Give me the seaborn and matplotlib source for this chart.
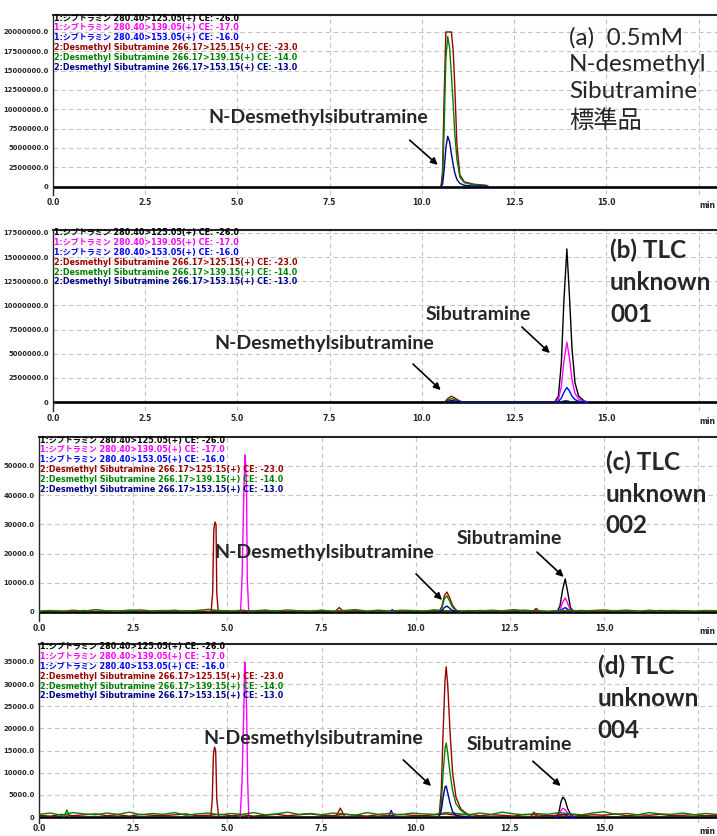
import numpy as np
import pandas as pd
import matplotlib.pyplot as plt
import seaborn as sns
from matplotlib.ticker import AutoMinorLocator, MultipleLocator

# MRM channels (legend order) and their colours
channel_ids = ["sib125", "sib139", "sib153", "dm125", "dm139", "dm153"]
channel_colors = ["#000000", "#ff00ff", "#0000ff", "#990000", "#008000", "#00008b"]
legend_lines = [
    "1:シブトラミン 280.40>125.05(+) CE: -26.0",
    "1:シブトラミン 280.40>139.05(+) CE: -17.0",
    "1:シブトラミン 280.40>153.05(+) CE: -16.0",
    "2:Desmethyl Sibutramine 266.17>125.15(+) CE: -23.0",
    "2:Desmethyl Sibutramine 266.17>139.15(+) CE: -14.0",
    "2:Desmethyl Sibutramine 266.17>153.15(+) CE: -13.0",
]

# (a) standard, intensities in millions
a_t = [10.52, 10.56, 10.60, 10.65, 10.70, 10.75, 10.80, 10.85, 10.89, 10.95, 11.03, 11.15, 11.40, 11.75, 11.80]
a_dm125 = [0, 2.0, 11.0, 20.0, 20.0, 20.0, 20.0, 17.5, 13.2, 5.4, 1.5, 0.6, 0.3, 0.15, 0]
a_dm139 = [0, 1.0, 7.0, 16.5, 19.4, 18.0, 14.5, 10.5, 7.0, 3.5, 1.2, 0.5, 0.2, 0.1, 0]
a_dm153 = [0, 0.3, 2.0, 5.0, 6.5, 5.8, 4.2, 2.8, 1.8, 0.9, 0.4, 0.15, 0.05, 0, 0]

# (b) unknown 001, intensities in millions
b_sib_t = [13.60, 13.70, 13.78, 13.85, 13.93, 14.00, 14.07, 14.15, 14.25, 14.40, 14.50]
b_sib125 = [0, 0.6, 4.0, 10.5, 15.85, 11.0, 5.5, 2.0, 0.6, 0.1, 0]
b_sib139 = [0, 0.25, 1.6, 4.2, 6.2, 4.6, 2.3, 0.9, 0.3, 0.05, 0]
b_sib153 = [0, 0.06, 0.4, 1.0, 1.5, 1.15, 0.6, 0.25, 0.08, 0.02, 0]
b_dm_t = [10.62, 10.70, 10.80, 10.90, 11.00, 11.10, 13.75, 13.90, 14.05]
b_dm125 = [0, 0.35, 0.6, 0.4, 0.15, 0, 0, 0.12, 0]
b_dm139 = [0, 0.2, 0.35, 0.25, 0.08, 0, 0, 0.15, 0]
b_dm153 = [0, 0.08, 0.15, 0.1, 0.03, 0, 0, 0.05, 0]

# (c) unknown 002, intensities in thousands
c_rt46_t = [4.57, 4.61, 4.64, 4.67, 4.70, 4.72, 4.76]
c_rt46_dm125 = [0, 6.5, 28.0, 30.8, 30.0, 6.5, 0]
c_rt55_t = [5.35, 5.39, 5.44, 5.47, 5.49, 5.51, 5.53, 5.57]
c_rt55_sib139 = [0, 11.0, 42.0, 53.8, 50.0, 42.0, 11.0, 0]
c_dm_t = [10.62, 10.70, 10.76, 10.83, 10.90, 10.97, 11.05, 11.15]
c_dm125 = [0, 2.0, 5.5, 6.8, 5.0, 2.5, 1.0, 0]
c_dm139 = [0, 1.5, 4.5, 5.5, 3.8, 1.8, 0.6, 0]
c_dm153 = [0, 0.5, 1.5, 2.0, 1.3, 0.5, 0.1, 0]
c_sib_t = [13.75, 13.83, 13.90, 13.97, 14.04, 14.11, 14.20]
c_sib125 = [0, 2.0, 7.5, 11.3, 6.5, 1.5, 0]
c_sib139 = [0, 0.8, 3.2, 4.8, 2.8, 0.6, 0]
c_sib153 = [0, 0.3, 1.0, 1.5, 0.9, 0.2, 0]
c_rt80_t = [7.85, 7.97, 8.10]
c_rt80_dm125 = [0, 1.5, 0]
c_rt94_t = [9.30, 9.38, 9.46]
c_rt94_sib153 = [0, 0.8, 0]
c_rt132_t = [13.10, 13.20, 13.30]
c_rt132_dm125 = [0, 1.2, 0]

# (d) unknown 004, intensities in thousands
d_rt46_t = [4.56, 4.60, 4.63, 4.66, 4.69, 4.72, 4.77]
d_rt46_dm125 = [0, 4.0, 14.0, 15.8, 15.0, 4.0, 0]
d_rt55_t = [5.34, 5.39, 5.44, 5.46, 5.48, 5.51, 5.54, 5.57]
d_rt55_sib139 = [0, 8.0, 25.0, 35.0, 33.0, 25.0, 8.0, 0]
d_dm_t = [10.62, 10.68, 10.73, 10.78, 10.81, 10.85, 10.91, 10.98, 11.07, 11.20, 11.35, 11.50]
d_dm125 = [0, 6.0, 19.6, 31.0, 33.9, 30.0, 19.6, 10.0, 4.5, 1.8, 0.8, 0]
d_dm139 = [0, 3.0, 10.0, 15.5, 16.7, 14.5, 10.0, 6.0, 3.0, 1.5, 0.6, 0]
d_dm153 = [0, 1.5, 4.5, 6.8, 7.0, 5.5, 3.2, 1.2, 0.4, 0.1, 0, 0]
d_sib_t = [13.72, 13.80, 13.86, 13.91, 13.97, 14.04, 14.12, 14.20]
d_sib125 = [0, 1.0, 3.5, 4.5, 3.8, 1.8, 0.5, 0]
d_sib139 = [0, 0.4, 1.5, 2.0, 1.6, 0.8, 0.2, 0]
d_sib153 = [0, 0.2, 0.5, 0.6, 0.5, 0.2, 0.05, 0]
d_rt07_t = [0.66, 0.74, 0.82]
d_rt07_dm139 = [0, 1.6, 0]
d_rt80_t = [7.88, 8.00, 8.12]
d_rt80_dm125 = [0, 2.0, 0]
d_rt94_t = [9.27, 9.35, 9.43]
d_rt94_sib153 = [0, 1.5, 0]
d_rt131_t = [13.05, 13.14, 13.23]
d_rt131_dm125 = [0, 1.1, 0]

# baseline noise (thousands)
noise_t = [0.0, 0.3, 0.6, 0.9, 1.2, 1.5, 1.8, 2.1, 2.4, 2.7, 3.0, 3.3, 3.6, 3.9, 4.2, 4.5,
           4.8, 5.1, 5.4, 5.7, 6.0, 6.3, 6.6, 6.9, 7.2, 7.5, 7.8, 8.1, 8.4, 8.7, 9.0, 9.3,
           9.6, 9.9, 10.2, 10.5, 10.8, 11.1, 11.4, 11.7, 12.0, 12.3, 12.6, 12.9, 13.2, 13.5,
           13.8, 14.1, 14.4, 14.7, 15.0, 15.3, 15.6, 15.9, 16.2, 16.5, 16.8, 17.1, 17.4, 17.7, 18.0]
c_noise_dm139 = [0.3, 0.5, 0.2, 0.6, 0.3, 0.8, 0.4, 0.2, 0.5, 0.7, 0.3, 0.4, 0.6, 0.2, 0.5, 0.9,
                 0.4, 0.3, 0.6, 0.2, 0.5, 0.3, 0.7, 0.4, 0.2, 0.6, 0.3, 0.5, 0.8, 0.3, 0.4, 0.2,
                 0.6, 0.5, 0.3, 0.7, 0.4, 0.2, 0.5, 0.3, 0.6, 0.4, 0.8, 0.3, 0.5, 0.2, 0.4, 0.6,
                 0.3, 0.5, 0.7, 0.3, 0.4, 0.2, 0.6, 0.3, 0.5, 0.4, 0.3, 0.5, 0.4]
c_noise_dm125 = [0.2, 0.4, 0.3, 0.1, 0.5, 0.2, 0.4, 0.3, 0.6, 0.2, 0.3, 0.5, 0.2, 0.4, 0.3, 0.2,
                 0.5, 0.3, 0.2, 0.4, 0.6, 0.3, 0.2, 0.4, 0.3, 0.5, 0.2, 0.3, 0.4, 0.2, 0.6, 0.3,
                 0.2, 0.4, 0.3, 0.5, 0.3, 0.4, 0.2, 0.5, 0.3, 0.2, 0.4, 0.6, 0.3, 0.2, 0.4, 0.3,
                 0.5, 0.2, 0.3, 0.4, 0.6, 0.3, 0.2, 0.5, 0.3, 0.4, 0.2, 0.3, 0.4]
d_noise_dm139 = [0.6, 0.9, 0.4, 1.0, 0.7, 0.5, 0.9, 0.6, 1.1, 0.5, 0.8, 0.6, 1.0, 0.4, 0.7, 0.9,
                 0.5, 0.8, 0.6, 1.0, 0.5, 0.7, 1.1, 0.6, 0.8, 0.5, 0.9, 0.7, 0.4, 1.0, 0.6, 0.8,
                 0.5, 0.9, 0.7, 0.6, 1.0, 0.8, 0.5, 0.9, 0.6, 1.1, 0.7, 0.5, 0.8, 0.6, 1.0, 0.7,
                 0.5, 0.9, 1.2, 0.6, 0.8, 0.5, 1.0, 0.7, 0.6, 0.9, 0.5, 0.8, 0.6]
d_noise_dm125 = [0.4, 0.2, 0.6, 0.3, 0.5, 0.7, 0.3, 0.5, 0.2, 0.6, 0.4, 0.3, 0.5, 0.7, 0.3, 0.4,
                 0.6, 0.3, 0.5, 0.2, 0.4, 0.6, 0.3, 0.5, 0.7, 0.4, 0.3, 0.6, 0.4, 0.2, 0.5, 0.3,
                 0.6, 0.4, 0.3, 0.5, 0.7, 0.4, 0.6, 0.3, 0.5, 0.4, 0.2, 0.6, 0.5, 0.3, 0.4, 0.6,
                 0.3, 0.5, 0.4, 0.7, 0.3, 0.5, 0.4, 0.6, 0.3, 0.4, 0.5, 0.3, 0.4]


def build_frame(pieces, scale):
    rows = []
    for name, t, series in pieces:
        for ch, vals in series.items():
            for ti, vi in zip(t, vals):
                rows.append((name + "-" + ch, ch, ti, vi * scale))
    return pd.DataFrame(rows, columns=["unit", "channel", "t", "y"])


panels = [
    build_frame([("p", a_t, {"dm125": a_dm125, "dm139": a_dm139, "dm153": a_dm153})], 1e6),
    build_frame([("sib", b_sib_t, {"sib125": b_sib125, "sib139": b_sib139, "sib153": b_sib153}),
                 ("dm", b_dm_t, {"dm125": b_dm125, "dm139": b_dm139, "dm153": b_dm153})], 1e6),
    build_frame([("noise", noise_t, {"dm139": c_noise_dm139, "dm125": c_noise_dm125}),
                 ("rt46", c_rt46_t, {"dm125": c_rt46_dm125}),
                 ("rt55", c_rt55_t, {"sib139": c_rt55_sib139}),
                 ("rt80", c_rt80_t, {"dm125": c_rt80_dm125}),
                 ("rt94", c_rt94_t, {"sib153": c_rt94_sib153}),
                 ("dm", c_dm_t, {"dm125": c_dm125, "dm139": c_dm139, "dm153": c_dm153}),
                 ("rt132", c_rt132_t, {"dm125": c_rt132_dm125}),
                 ("sib", c_sib_t, {"sib125": c_sib125, "sib139": c_sib139, "sib153": c_sib153})], 1e3),
    build_frame([("noise", noise_t, {"dm139": d_noise_dm139, "dm125": d_noise_dm125}),
                 ("rt07", d_rt07_t, {"dm139": d_rt07_dm139}),
                 ("rt46", d_rt46_t, {"dm125": d_rt46_dm125}),
                 ("rt55", d_rt55_t, {"sib139": d_rt55_sib139}),
                 ("rt80", d_rt80_t, {"dm125": d_rt80_dm125}),
                 ("rt94", d_rt94_t, {"sib153": d_rt94_sib153}),
                 ("dm", d_dm_t, {"dm125": d_dm125, "dm139": d_dm139, "dm153": d_dm153}),
                 ("rt131", d_rt131_t, {"dm125": d_rt131_dm125}),
                 ("sib", d_sib_t, {"sib125": d_sib125, "sib139": d_sib139, "sib153": d_sib153})], 1e3),
]

# layout in pixels: left, top, bottom (right edge = figure edge)
W, H = 717, 836
boxes = [(53, 15, 195), (53, 230, 411), (39, 437, 621), (39, 644, 823)]
ylims = [(-1.1e6, 22.2e6), (-0.93e6, 17.81e6), (-3.1e3, 59.9e3), (-1.35e3, 39.06e3)]
ysteps = [2.5e6, 2.5e6, 1e4, 5e3]
ytops = [20e6, 17.5e6, 5e4, 3.5e4]
xpads = [2, 2, 2, 1]

titles = ["(a)  0.5mM\nN-desmethyl\nSibutramine\n標準品",
          "(b) TLC\nunknown\n001", "(c) TLC\nunknown\n002", "(d) TLC\nunknown\n004"]
title_pos = [(0.777, 0.935), (0.839, 0.955), (0.836, 0.925), (0.824, 0.940)]
title_weight = ["normal", "bold", "bold", "bold"]
title_spacing = [1.36, 1.47, 1.44, 1.47]

# annotations: (label, text xy, arrow tail, arrow head) in data units
notes = [
    [("N-Desmethylsibutramine", (7.18, 8.87e6), (9.67, 6.0e6), (10.43, 2.8e6))],
    [("N-Desmethylsibutramine", (7.34, 6.11e6), (9.76, 3.93e6), (10.51, 1.24e6)),
     ("Sibutramine", (11.52, 9.11e6), (12.71, 7.77e6), (13.47, 5.07e6))],
    [("N-Desmethylsibutramine", (7.58, 20.2e3), (10.01, 13.0e3), (10.70, 4.1e3)),
     ("Sibutramine", (12.48, 25.3e3), (13.22, 20.5e3), (13.93, 12.0e3))],
    [("N-Desmethylsibutramine", (7.28, 17.8e3), (9.67, 12.9e3), (10.41, 7.0e3)),
     ("Sibutramine", (12.74, 16.3e3), (13.11, 12.6e3), (13.85, 7.0e3))],
]

sns.set_style("white")
plt.rcParams["font.family"] = ["DejaVu Sans", "Noto Sans CJK JP"]
big_font = ["Lato", "Noto Sans CJK JP"]
small_font = ["DejaVu Sans", "Noto Sans CJK JP"]

fig = plt.figure(figsize=(W / 100, H / 100), dpi=100)
palette = dict(zip(channel_ids, channel_colors))

for i, df in enumerate(panels):
    left, top, bottom = boxes[i]
    ax = fig.add_axes([left / W, 1 - bottom / H, (W - left) / W, (bottom - top) / H])
    ax.set_axisbelow(True)
    ax.grid(True, which="major", ls=(0, (4, 3)), color="#c4c4c4", lw=0.8)
    ax.axhline(0, color="black", lw=1.9, zorder=1.5)
    sns.lineplot(data=df, x="t", y="y", hue="channel", units="unit", estimator=None,
                 palette=palette, hue_order=channel_ids, sort=False, legend=False,
                 lw=1.0, ax=ax, zorder=3)
    ax.set_xlim(0, 18)
    ax.set_ylim(*ylims[i])
    ax.set_xlabel("")
    ax.set_ylabel("")

    xt = np.arange(0, 17.6, 2.5)
    ax.set_xticks(xt)
    ax.set_xticklabels([f"{v:.1f}" for v in xt[:-1]] + [""])
    ax.xaxis.set_minor_locator(MultipleLocator(0.5))
    yt = np.arange(0, ytops[i] + 1, ysteps[i])
    ax.set_yticks(yt)
    ax.set_yticklabels(["0"] + [f"{v:.1f}" for v in yt[1:]])
    ax.yaxis.set_minor_locator(AutoMinorLocator(5))

    ax.tick_params(axis="x", which="major", direction="in", length=3, labelsize=5.5, pad=xpads[i])
    ax.tick_params(axis="x", which="minor", direction="in", length=2)
    ax.tick_params(axis="y", which="major", direction="out", length=2.5, labelsize=4.9, pad=0.5)
    ax.tick_params(axis="y", which="minor", direction="out", length=1.5)
    for lab in ax.get_xticklabels() + ax.get_yticklabels():
        lab.set_fontweight("bold")

    ax.spines["right"].set_visible(False)
    ax.spines["bottom"].set_visible(False)
    ax.spines["top"].set_linewidth(1.5)
    ax.spines["left"].set_linewidth(1.0)

    ax.annotate("min", xy=(1.0, 0), xycoords="axes fraction",
                xytext=(-1, -xpads[i] - 2), textcoords="offset points", va="top", ha="right",
                fontsize=5.5, fontweight="bold")

    # channel legend as coloured text lines
    hpx = bottom - top
    for k, (line, col) in enumerate(zip(legend_lines, channel_colors)):
        ax.text(0.002, 1 - (3 + 9.8 * k) / hpx, line, transform=ax.transAxes,
                color=col, fontsize=5.8, fontweight="bold", family=small_font,
                va="center", ha="left", zorder=5)

    tx, ty = title_pos[i]
    ax.text(tx, ty, titles[i], transform=ax.transAxes, fontsize=17.5,
            fontweight=title_weight[i], family=big_font, va="top", ha="left",
            linespacing=title_spacing[i], zorder=5)

    for label, txy, tail, head in notes[i]:
        ax.text(txy[0], txy[1], label, fontsize=14, fontweight="bold",
                family=big_font, ha="center", va="center", zorder=5)
        ax.annotate("", xy=head, xytext=tail,
                    arrowprops=dict(arrowstyle="-|>", color="black", lw=1.2,
                                    mutation_scale=10, shrinkA=0, shrinkB=0), zorder=5)

fig.savefig("out.png", dpi=100)
